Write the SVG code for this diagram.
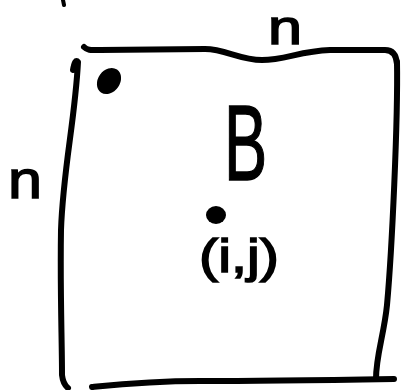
<svg xmlns="http://www.w3.org/2000/svg" width="404" height="390" viewBox="0 0 404 390">
<style>
.ink{fill:none;stroke:#000;stroke-width:6;stroke-linecap:round;stroke-linejoin:round}
.thin{fill:none;stroke:#000;stroke-width:4;stroke-linecap:round}
.lbl{font-family:"Liberation Sans",Arial,sans-serif;fill:#000;stroke:#000;stroke-width:1.5}
</style>
<rect width="404" height="390" fill="#fff"/>
<g id="matrix">
<path class="ink" d="M84,47 C88,51 92,50 100,50 L205,49 C225,49 240,60 262,60 C285,60 300,51 330,50 L385,50 Q396,50 397,64"/>
<path class="ink" d="M397,62 C398,120 392,250 387,305 C384,335 376,355 376,379"/>
<path class="ink" d="M92,387 C112,385 150,381 200,381 C260,381 330,380 394,379"/>
<path class="ink" d="M73,70 Q75,58 78,62 C75,120 63,170 61,230 C60,290 62,340 62,375 Q63,384 68,388"/>
<path class="thin" d="M63,0 L64,5"/>
</g>
<g id="corner-dot">
<ellipse cx="109" cy="81" rx="11" ry="14" transform="rotate(35 109 81)" fill="#000"/>
</g>
<g id="label-top-n">
<text class="lbl" x="268" y="44" font-size="48" textLength="34" lengthAdjust="spacingAndGlyphs">n</text>
</g>
<g id="label-left-n">
<text class="lbl" x="8" y="198" font-size="54" textLength="34" lengthAdjust="spacingAndGlyphs">n</text>
</g>
<g id="label-B">
<text class="lbl" font-size="108" transform="translate(224,180) scale(0.6,1)">B</text>
</g>
<g id="point">
<ellipse cx="216" cy="215" rx="10" ry="9" fill="#000"/>
</g>
<g id="label-ij">
<text class="lbl" x="199" y="272" font-size="46" textLength="80" lengthAdjust="spacingAndGlyphs">(i,j)</text>
</g>
</svg>
